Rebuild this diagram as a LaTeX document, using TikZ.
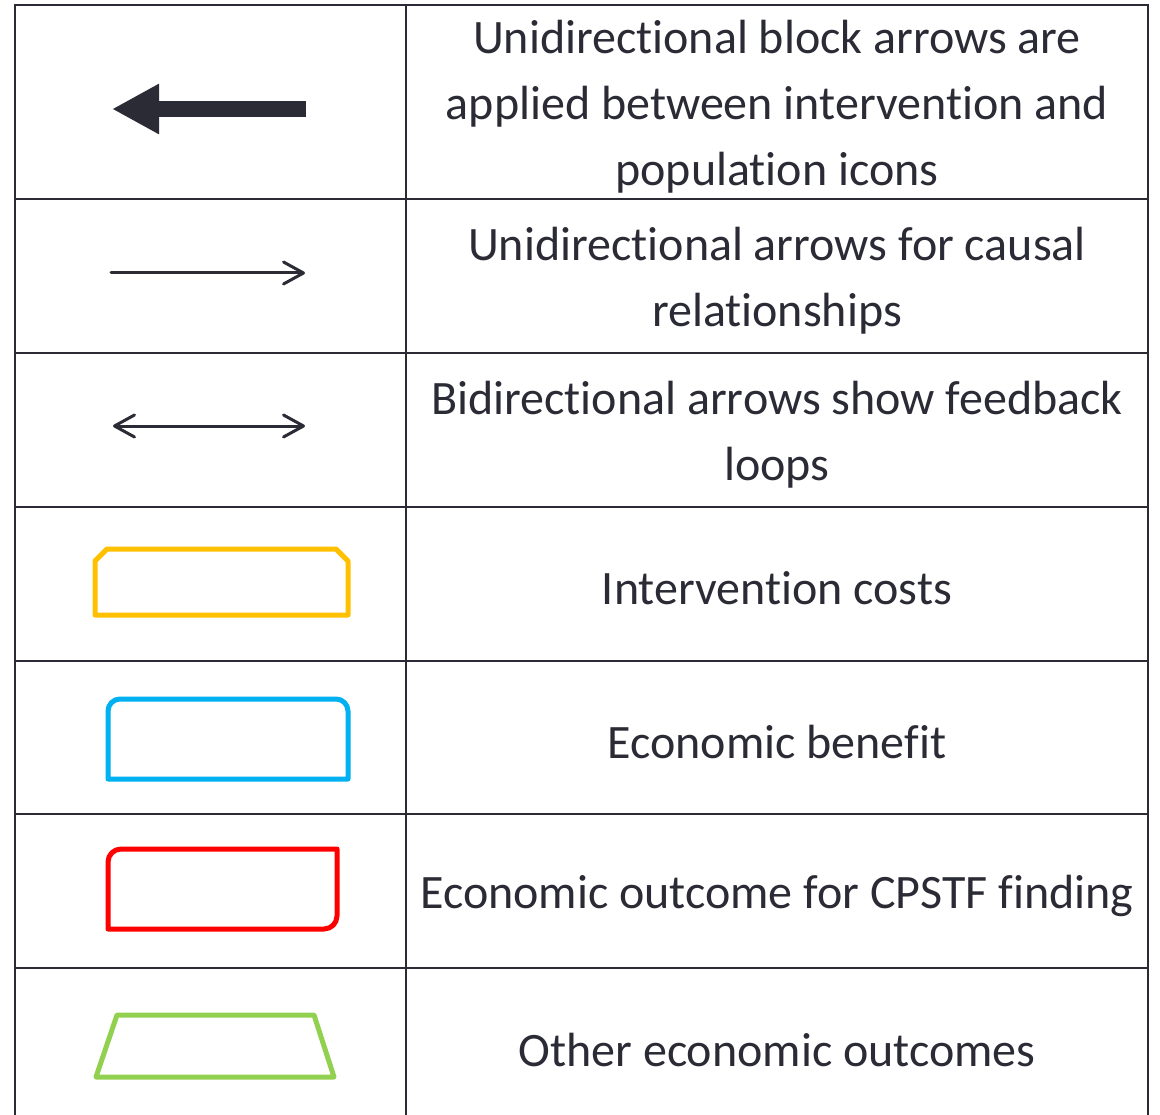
\documentclass[tikz,border=0pt]{standalone}
\usepackage{fontspec}
\setmainfont{Carlito}[Ligatures=NoCommon]
\usetikzlibrary{arrows.meta}
\definecolor{ink}{HTML}{2B2B36}
\definecolor{costyellow}{HTML}{FFC000}
\definecolor{benefitblue}{HTML}{00B0F0}
\definecolor{findingred}{HTML}{FF0000}
\definecolor{othergreen}{HTML}{92D050}
\begin{document}
\begin{tikzpicture}[x=1pt,y=-1pt,
	grid/.style={draw=ink, line width=2.2pt},
	legendtext/.style={text=ink, align=center, font=\fontsize{48}{66}\selectfont},
	outline/.style={line width=5pt, line join=round},
	thin arrow/.style={draw=ink, line width=3pt, line cap=round},
	>={Straight Barb[length=20pt, width=22pt, line cap=round, line join=round]}]
	\useasboundingbox (0,0) rectangle (1160,1115);
	
	%Grid
	\foreach \y in {5,199,353,507,661,814,968}
		\draw[grid] (15,\y) -- (1148,\y);
	\foreach \x in {15,406,1148}
		\draw[grid] (\x,4) -- (\x,1116);
	
	%Nodes
	\node[legendtext]	(blocktxt)	at (777,107)	{Unidirectional block arrows are\\applied between intervention and\\population icons};
	\node[legendtext]	(causaltxt)	at (777,281)	{Unidirectional arrows for causal\\relationships};
	\node[legendtext]	(feedbacktxt)	at (777,435)	{Bidirectional arrows show feedback\\loops};
	\node[legendtext]	(coststxt)	at (777,588)	{Intervention costs};
	\node[legendtext]	(benefittxt)	at (777,742)	{Economic benefit};
	\node[legendtext]	(findingtxt)	at (777,896)	{Economic outcome for CPSTF finding};
	\node[legendtext]	(othertxt)	at (777,1050)	{Other economic outcomes};
	
	%Arrow ends
	\coordinate (block start) at (306,109);
	\coordinate (block end) at (112,109);
	\coordinate (causal start) at (111,273);
	\coordinate (causal end) at (305,273);
	\coordinate (feedback start) at (113,426);
	\coordinate (feedback end) at (305,426);
	
	%Arrows
	\draw[draw=ink, fill=ink, line width=16pt, -{Triangle[length=47pt, width=47pt]}] (block start) -- (block end);
	\draw[thin arrow, ->] (causal start) -- (causal end);
	\draw[thin arrow, <->] (feedback start) -- (feedback end);
	
	%Shapes
	\draw[outline, costyellow] (95,615) -- (95,561) -- (107,549) -- (336,549) -- (348,561) -- (348,615) -- cycle;
	\draw[outline, benefitblue] (108,779) -- (108,711) arc[start angle=180, end angle=270, radius=12] -- (336,699) arc[start angle=270, end angle=360, radius=12] -- (348,779) -- cycle;
	\draw[outline, findingred] (108,929) -- (108,862) arc[start angle=180, end angle=270, radius=13] -- (337,849) -- (337,916) arc[start angle=0, end angle=90, radius=13] -- cycle;
	\draw[outline, othergreen] (96,1077) -- (117,1015) -- (314,1015) -- (334,1077) -- cycle;
\end{tikzpicture}
\end{document}
